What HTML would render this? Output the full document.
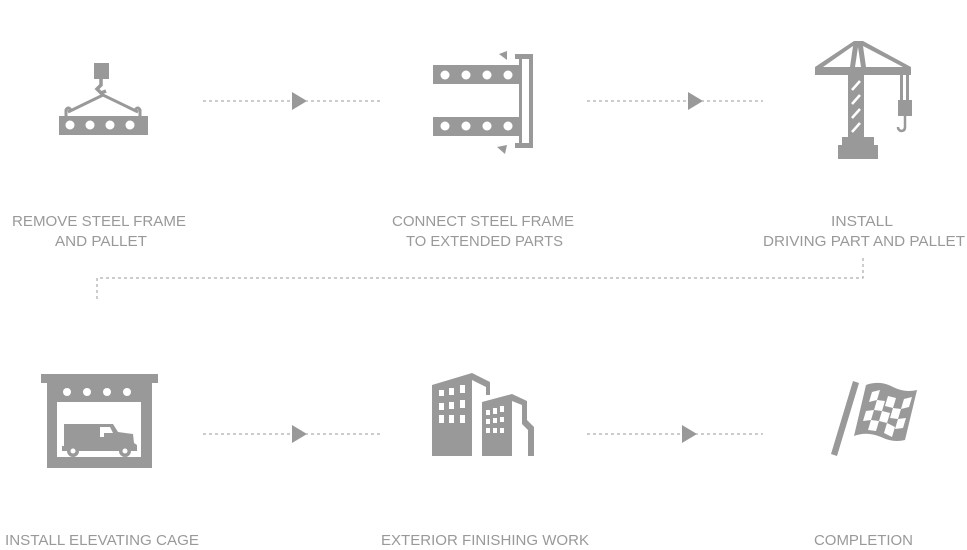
<!DOCTYPE html>
<html><head><meta charset="utf-8"><style>html,body{margin:0;padding:0;background:#fff}svg{display:block}</style></head>
<body>
<svg width="967" height="550" viewBox="0 0 967 550" xmlns="http://www.w3.org/2000/svg">
<g fill="#999" font-family="'Liberation Sans',sans-serif" font-size="15">
<text x="12" y="226" textLength="174" lengthAdjust="spacingAndGlyphs">REMOVE STEEL FRAME</text>
<text x="55" y="246" textLength="92" lengthAdjust="spacingAndGlyphs">AND PALLET</text>
<text x="392" y="226" textLength="182" lengthAdjust="spacingAndGlyphs">CONNECT STEEL FRAME</text>
<text x="406" y="246" textLength="157" lengthAdjust="spacingAndGlyphs">TO EXTENDED PARTS</text>
<text x="831" y="226" textLength="62" lengthAdjust="spacingAndGlyphs">INSTALL</text>
<text x="763" y="246" textLength="202" lengthAdjust="spacingAndGlyphs">DRIVING PART AND PALLET</text>
<text x="5" y="545" textLength="194" lengthAdjust="spacingAndGlyphs">INSTALL ELEVATING CAGE</text>
<text x="381" y="545" textLength="208" lengthAdjust="spacingAndGlyphs">EXTERIOR FINISHING WORK</text>
<text x="814" y="545" textLength="99" lengthAdjust="spacingAndGlyphs">COMPLETION</text>
</g>
<g stroke="#999" stroke-width="1" stroke-dasharray="3,3" fill="none">
<line x1="203" y1="101" x2="380" y2="101"/>
<line x1="587" y1="101" x2="763" y2="101"/>
<line x1="203" y1="434" x2="380" y2="434"/>
<line x1="587" y1="434" x2="763" y2="434"/>
<polyline points="863,258 863,278 97,278 97,302"/>
</g>
<g fill="#999">
<polygon points="292,92 292,110 307,101"/>
<polygon points="688,92 688,110 703,101"/>
<polygon points="292,425 292,443 307,434"/>
<polygon points="682,425 682,443 697,434"/>
<rect x="94" y="63" width="15" height="16"/>
<path d="M101 79 L101 85 L97 89 L101 93 L106 91" stroke="#999" stroke-width="3.5" fill="none"/>
<path d="M68 112 L103 95 L138 112" stroke="#999" stroke-width="3" fill="none"/>
<path d="M66 116 L66 110 Q68 106 71 110 M140 116 L140 110 Q138 106 135 110" stroke="#999" stroke-width="3" fill="none"/>
<rect x="59" y="116" width="89" height="19"/>
</g>
<g fill="#fff"><circle cx="70" cy="125" r="4.5"/><circle cx="90" cy="125" r="4.5"/><circle cx="110" cy="125" r="4.5"/><circle cx="130" cy="125" r="4.5"/></g>
<g fill="#999">
<rect x="433" y="65" width="89" height="19"/>
<rect x="433" y="117" width="89" height="19"/>
<rect x="519" y="58" width="3" height="86"/>
<path d="M515 54 H533 V148 H515 V143 H529 V59 H515 Z"/>
<polygon points="499,54 507,51 507,60"/>
<polygon points="497,147 507,145 505,154"/>
</g>
<g fill="#fff"><circle cx="445" cy="75" r="4.5"/><circle cx="466" cy="75" r="4.5"/><circle cx="487" cy="75" r="4.5"/><circle cx="508" cy="75" r="4.5"/><circle cx="445" cy="126" r="4.5"/><circle cx="466" cy="126" r="4.5"/><circle cx="487" cy="126" r="4.5"/><circle cx="508" cy="126" r="4.5"/></g>
<g fill="#999">
<rect x="815" y="67" width="96" height="8"/>
<path d="M854 41 H863 L911 67 H903 L863 46 L866 67 H861 L858 47 L855 67 H850 L853 46 L823 67 H815 Z"/>
<rect x="848" y="75" width="16" height="63"/>
<rect x="842" y="137" width="32" height="8"/>
<rect x="838" y="145" width="40" height="14"/>
<rect x="900" y="75" width="3" height="25"/><rect x="906" y="75" width="3" height="25"/>
<rect x="898" y="100" width="14" height="16"/>
<path d="M905 116 V127 Q905 131 901 131 Q898 130 898 127" stroke="#999" stroke-width="2.5" fill="none"/>
</g>
<g stroke="#fff" stroke-width="2.5"><line x1="852" y1="90" x2="860" y2="81"/><line x1="852" y1="104" x2="860" y2="95"/><line x1="852" y1="118" x2="860" y2="109"/><line x1="852" y1="132" x2="860" y2="123"/></g>
<g fill="#999">
<rect x="41" y="374" width="117" height="9"/>
<rect x="47" y="383" width="105" height="85"/>
</g>
<rect x="57" y="402" width="84" height="55" fill="#fff"/>
<g fill="#fff"><circle cx="67" cy="392" r="4"/><circle cx="87" cy="392" r="4"/><circle cx="107" cy="392" r="4"/><circle cx="127" cy="392" r="4"/></g>
<g fill="#999">
<path d="M64 424 H113 L118 432 L133 434 L134 443 L137 445 V451 H62 V446 H64 Z"/>
<circle cx="73" cy="451" r="6"/><circle cx="125" cy="451" r="6"/>
</g>
<g fill="#fff"><circle cx="73" cy="451" r="2.5"/><circle cx="125" cy="451" r="2.5"/><path d="M100 427 H110 L113 433 H104 V437 H100 Z"/></g>
<g fill="#999">
<path d="M432 385 L472 373 L490 382 V395 L486 395 V387 L472 380 V456 H432 Z"/>
<path d="M482 402 L512 394 L527 401 V420 L534 427 V456 H528 V430 L522 424 V405 L512 401 V456 H482 Z"/>
</g>
<g fill="#fff">
<rect x="439" y="390" width="5" height="6"/><rect x="449" y="388" width="5" height="7"/><rect x="460" y="385" width="5" height="8"/>
<rect x="439" y="403" width="5" height="7"/><rect x="449" y="402" width="5" height="7"/><rect x="460" y="400" width="5" height="8"/>
<rect x="439" y="415" width="5" height="8"/><rect x="449" y="415" width="5" height="8"/><rect x="460" y="415" width="5" height="8"/>
<rect x="486" y="410" width="4" height="5"/><rect x="493" y="408" width="4" height="6"/><rect x="500" y="406" width="4" height="6"/>
<rect x="486" y="419" width="4" height="5"/><rect x="493" y="418" width="4" height="5"/><rect x="500" y="417" width="4" height="5"/>
<rect x="486" y="428" width="4" height="5"/><rect x="493" y="428" width="4" height="5"/><rect x="500" y="428" width="4" height="5"/>
</g>
<g fill="#999">
<polygon points="853,381 859,383 837,456 831,454"/>
<path d="M866 385 Q880 380 893 387 Q905 393 917 390 L905 440 Q893 443 881 437 Q867 431 854 436 Z"/>
</g>
<g fill="#fff">
<polygon points="872,392 880,390 877,400 869,402"/>
<polygon points="888,396 896,398 893,408 885,406"/>
<polygon points="904,399 912,397 909,407 901,409"/>
<polygon points="877,400 885,401 882,411 874,410"/>
<polygon points="893,408 901,409 898,419 890,418"/>
<polygon points="866,411 874,410 871,420 863,421"/>
<polygon points="882,411 890,413 887,423 879,421"/>
<polygon points="898,419 906,418 903,428 895,429"/>
<polygon points="871,420 879,421 876,431 868,430"/>
<polygon points="887,423 895,427 892,437 884,433"/>
</g>
</svg>
</body></html>
